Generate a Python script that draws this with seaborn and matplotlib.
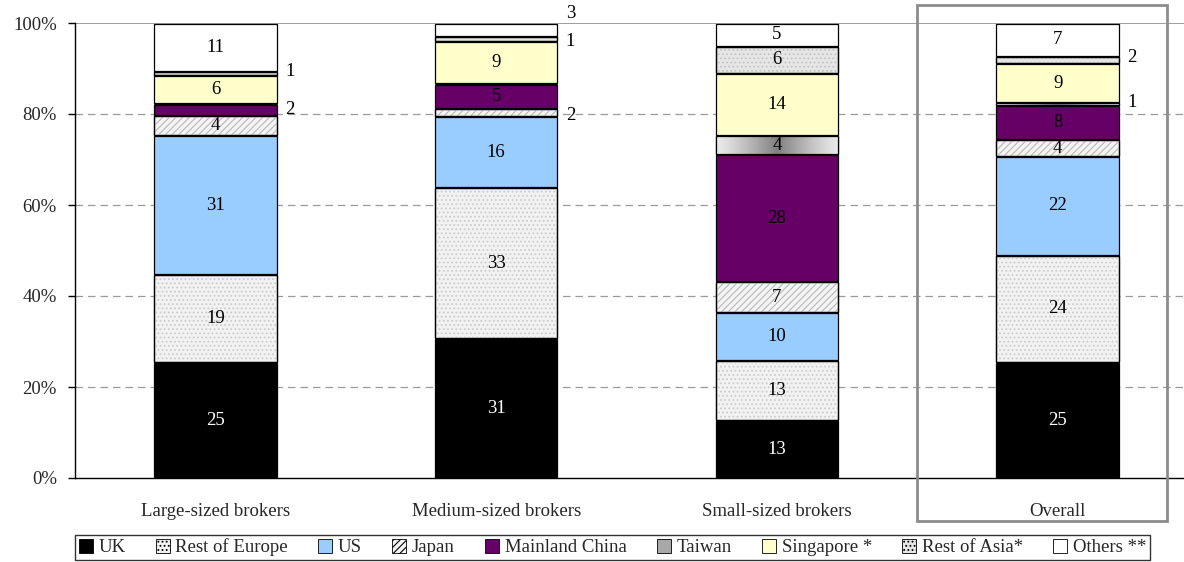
import numpy as np
import pandas as pd
import seaborn as sns
import matplotlib
matplotlib.use("Agg")
import matplotlib.pyplot as plt
from matplotlib.patches import Rectangle, Patch

# ---- data (percent of turnover by location of counterparty) ----
categories = ["Large-sized brokers", "Medium-sized brokers", "Small-sized brokers", "Overall"]
regions = ["UK", "Rest of Europe", "US", "Japan", "Mainland China",
           "Taiwan", "Singapore *", "Rest of Asia*", "Others **"]
uk = [25.4, 30.6, 12.6, 25.4]
rest_of_europe = [19.3, 33.2, 13.3, 23.6]
us = [30.6, 15.6, 10.4, 21.7]
japan = [4.4, 1.9, 6.8, 3.6]
mainland_china = [2.4, 5.1, 27.9, 7.6]
taiwan = [0.3, 0.3, 4.2, 0.6]
singapore = [6.1, 9.3, 13.8, 8.6]
rest_of_asia = [0.9, 1.0, 5.9, 1.6]
others = [10.6, 3.0, 5.1, 7.3]
series = [uk, rest_of_europe, us, japan, mainland_china, taiwan, singapore, rest_of_asia, others]
y_ticks = [0, 20, 40, 60, 80, 100]

# labels set beside the bar (region, category index) -> vertical nudge in points
outside_labels = {
    ("Mainland China", 0): 0, ("Rest of Asia*", 0): 1,
    ("Japan", 1): -2, ("Rest of Asia*", 1): -2, ("Others **", 1): 12,
    ("Taiwan", 3): 1, ("Rest of Asia*", 3): 2,
}

# ---- styles ----
styles = {
    "UK": dict(face="#000000", hatch=None, hc=None, text="white"),
    "Rest of Europe": dict(face="#f2f2f2", hatch="....", hc="#cccccc", text="black"),
    "US": dict(face="#99ccff", hatch=None, hc=None, text="black"),
    "Japan": dict(face="#f4f4f4", hatch="/////", hc="#b8b8b8", text="black"),
    "Mainland China": dict(face="#660066", hatch=None, hc=None, text="black"),
    "Taiwan": dict(face="#a8a8a8", hatch=None, hc=None, text="black", gradient=True),
    "Singapore *": dict(face="#ffffcc", hatch=None, hc=None, text="black"),
    "Rest of Asia*": dict(face="#e6e6e6", hatch="....", hc="#c4c4c4", text="black"),
    "Others **": dict(face="#ffffff", hatch=None, hc=None, text="black"),
}

FS = 13.5

sns.set_style("white")
plt.rcParams["font.family"] = ["Liberation Serif", "DejaVu Serif"]
plt.rcParams["hatch.linewidth"] = 0.8

fig = plt.figure(figsize=(11.84, 5.62), dpi=100)
ax = fig.add_axes([75 / 1184, 1 - 478 / 562, 1 - 75 / 1184, (478 - 23) / 562])

bar_w = 0.436
gap = 0.12
edge_lw = 0.9
bottoms = np.zeros(len(categories))
for name, vals in zip(regions, series):
    st = styles[name]
    vals = np.asarray(vals, dtype=float)
    tops = bottoms + vals
    df = pd.DataFrame({"category": categories, "share": tops})
    n_before = len(ax.patches)
    sns.barplot(data=df, x="category", y="share", order=categories, color=st["face"],
                saturation=1, width=bar_w, errorbar=None, edgecolor="black",
                linewidth=edge_lw, ax=ax, zorder=3)
    new_patches = ax.patches[n_before:]
    for i, p in enumerate(new_patches):
        b, v = bottoms[i], vals[i]
        p.set_y(b + gap)
        p.set_height(max(v - 2 * gap, 0.05))
        x0, y0, w, h = p.get_x(), p.get_y(), p.get_width(), p.get_height()
        if st["hatch"]:
            ax.add_patch(Rectangle((x0, y0), w, h, facecolor="none", edgecolor=st["hc"],
                                   hatch=st["hatch"], linewidth=0, zorder=3.1))
        if st.get("gradient"):
            xs = np.linspace(-1, 1, 256)
            grad = (0.92 - 0.42 * (1 - np.abs(xs)) ** 1.2)[None, :]
            im = ax.imshow(grad, cmap="gray", vmin=0, vmax=1, aspect="auto",
                           extent=(x0, x0 + w, y0, y0 + h), zorder=3.1,
                           interpolation="bilinear")
            im.set_clip_path(p)
        if st["hatch"] or st.get("gradient"):
            ax.add_patch(Rectangle((x0, y0), w, h, facecolor="none", edgecolor="black",
                                   linewidth=edge_lw, zorder=3.2))
        # value labels
        lab = int(round(v))
        if lab == 0:
            continue
        key = (name, i)
        if key in outside_labels:
            ax.annotate(str(lab), (x0 + w, b + v / 2), xytext=(6, outside_labels[key]),
                        textcoords="offset points", ha="left", va="center",
                        fontsize=FS, color="black", zorder=5)
        else:
            ax.text(i, b + v / 2, str(lab), ha="center", va="center",
                    fontsize=FS, color=st["text"], zorder=5)
    bottoms = tops

ax.set_xlim(-0.5, 3.45)
ax.set_ylim(0, 100)
ax.set_xlabel("")
ax.set_ylabel("")
ax.set_yticks(y_ticks)
ax.set_yticklabels([f"{t}%" for t in y_ticks])
ax.set_xticks(range(len(categories)))
ax.set_xticklabels(categories)
ax.set_xticks([-0.5, 0.5, 1.5, 2.5], minor=True)
ax.tick_params(axis="x", which="major", length=0, pad=18, labelsize=FS)
ax.tick_params(axis="x", which="minor", length=5, width=1, direction="out", color="black")
ax.tick_params(axis="y", length=5, width=1, direction="out", color="black", pad=8,
               labelsize=FS, left=True)

for yv in y_ticks[1:-1]:
    ax.axhline(yv, color="#9a9a9a", linestyle=(0, (6, 4)), linewidth=0.9, zorder=1)
ax.axhline(100, color="#8c8c8c", linewidth=1.2, zorder=1)

for s in ["top", "right"]:
    ax.spines[s].set_visible(False)
for s in ["left", "bottom"]:
    ax.spines[s].set_color("black")
    ax.spines[s].set_linewidth(1)
    ax.spines[s].set_zorder(4)

# highlight box around the aggregate bar
fig.patches.append(Rectangle((917 / 1184, 1 - 521 / 562), 250 / 1184, 516 / 562,
                             transform=fig.transFigure, fill=False,
                             edgecolor="#8c8c8c", linewidth=2))

handles = []
for name in regions:
    st = styles[name]
    handles.append(Patch(facecolor=st["face"], edgecolor="black", linewidth=0.6,
                         hatch=st["hatch"] if st["hatch"] else None, label=name))
leg = fig.legend(handles=handles, ncol=9, loc="lower left",
                 bbox_to_anchor=(75 / 1184, 2 / 562, (1150 - 75) / 1184, 28 / 562),
                 mode="expand", frameon=True, fancybox=False, fontsize=FS,
                 handlelength=0.75, handleheight=0.75, handletextpad=0.3,
                 borderaxespad=0, borderpad=0.2, columnspacing=0.6)
leg.get_frame().set_edgecolor("black")
leg.get_frame().set_linewidth(1)

fig.savefig("out.png", dpi=100)
